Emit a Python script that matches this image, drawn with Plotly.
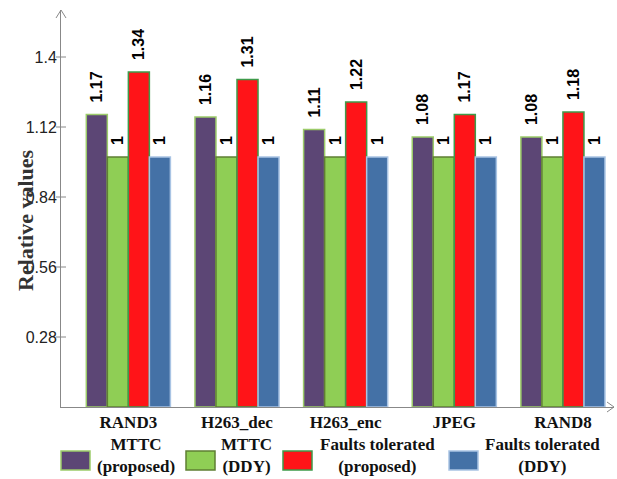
import plotly.graph_objects as go

categories = ["RAND3", "H263_dec", "H263_enc", "JPEG", "RAND8"]
mttc_proposed = [1.17, 1.16, 1.11, 1.08, 1.08]
mttc_ddy = [1, 1, 1, 1, 1]
faults_proposed = [1.34, 1.31, 1.22, 1.17, 1.18]
faults_ddy = [1, 1, 1, 1, 1]
series_names = ["MTTC<br>(proposed)", "MTTC<br>(DDY)",
                "Faults tolerated<br>(proposed)", "Faults tolerated<br>(DDY)"]
y_tickvals = [0.28, 0.56, 0.84, 1.12, 1.4]
y_ticktext = ["0.28", "0.56", "0.84", "1.12", "1.4"]

fills = ["#5C4675", "#8FCE55", "#FF1418", "#4471A6"]
borders = ["#9CCB6A", "#5F7F33", "#3E9A4A", "#A9C4E4"]

SERIF = "Liberation Serif, Times New Roman"
SANS = "Liberation Sans, Arial"

W, H = 617, 479
L, R, T, B = 61, 3, 10, 72
pw, ph = W - L - R, H - T - B

fig = go.Figure()
for vals, name, fc, bc in zip([mttc_proposed, mttc_ddy, faults_proposed, faults_ddy],
                              series_names, fills, borders):
    fig.add_trace(go.Bar(
        x=categories, y=vals, name=name.replace("<br>", " "),
        marker=dict(color=fc, line=dict(color=bc, width=1.5)),
        text=[f"{v:g}" for v in vals],
        texttemplate="\u00a0\u00a0%{text}",
        textposition="outside", textangle=-90, constraintext="none",
        textfont=dict(family=SANS, size=16, color="#000000", weight="bold"),
        cliponaxis=False, showlegend=False,
    ))

def px_x(p):
    return (p - L) / pw

def px_y(p):
    return (H - B - p) / ph

shapes = []
shapes.append(dict(type="path", xref="paper", yref="paper", xsizemode="pixel", ysizemode="pixel",
                   xanchor=1, yanchor=0, path="M-7,5 L0,0 L-7,-5",
                   line=dict(color="#888888", width=1)))
shapes.append(dict(type="path", xref="paper", yref="paper", xsizemode="pixel", ysizemode="pixel",
                   xanchor=0, yanchor=1, path="M-5,-8 L0,0 L5,-8",
                   line=dict(color="#888888", width=1)))
for tv in y_tickvals:
    shapes.append(dict(type="line", xref="paper", yref="y", xsizemode="pixel", xanchor=0,
                       x0=-5, x1=5, y0=tv, y1=tv, line=dict(color="#888888", width=1)))

sw_x = [61, 186, 283, 449]
txt_cx = [136, 246, 377, 542]
annotations = []
for i in range(4):
    shapes.append(dict(type="rect", xref="paper", yref="paper",
                       x0=px_x(sw_x[i]), x1=px_x(sw_x[i] + 29), y0=px_y(470), y1=px_y(451),
                       fillcolor=fills[i], line=dict(color=borders[i], width=1.5)))
    annotations.append(dict(xref="paper", yref="paper", x=px_x(txt_cx[i]), y=px_y(478),
                            text=series_names[i], showarrow=False, align="center",
                            xanchor="center", yanchor="bottom",
                            font=dict(family=SERIF, size=17, color="#111111",
                                      weight="bold")))

annotations.append(dict(xref="paper", yref="paper", x=px_x(25), y=px_y(220),
                        text="Relative values", textangle=-90, showarrow=False,
                        xanchor="center", yanchor="middle",
                        font=dict(family=SERIF, size=22, color="#333333", weight="bold")))

fig.update_layout(
    width=W, height=H,
    margin=dict(l=L, r=R, t=T, b=B),
    paper_bgcolor="white", plot_bgcolor="white",
    barmode="group", bargap=0.226, bargroupgap=0,
    showlegend=False,
    xaxis=dict(range=[-0.62, 4.47], showline=True, linecolor="#888888", linewidth=1,
               showgrid=False, zeroline=False, ticks="",
               tickfont=dict(family=SERIF, size=17, color="#111111", weight="bold")),
    yaxis=dict(range=[0, 1.588], showline=True, linecolor="#888888", linewidth=1,
               showgrid=False, zeroline=False, ticks="",
               tickvals=y_tickvals, ticktext=y_ticktext,
               tickfont=dict(family=SANS, size=16, color="#222222")),
    shapes=shapes, annotations=annotations,
)

fig.write_html("out.html", config={"displayModeBar": False},
               post_script="document.body.style.margin='0';")
